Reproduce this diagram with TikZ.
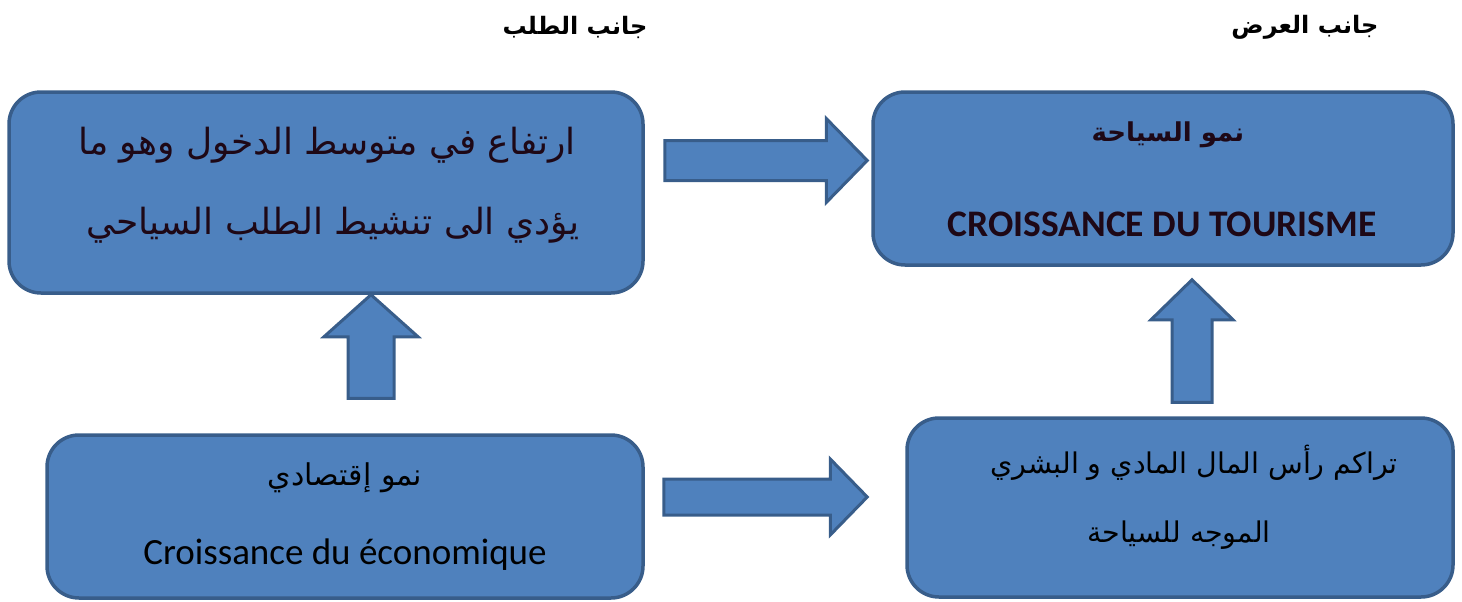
\documentclass[tikz,border=0pt]{standalone}
\usepackage{fontspec}
\setmainfont{Carlito}
\newfontfamily\arabicfont[Script=Arabic]{DejaVu Sans}
\TeXXeTstate=1
\usetikzlibrary{calc}
\definecolor{boxblue}{RGB}{79,129,189}
\definecolor{boxline}{RGB}{56,93,138}
\definecolor{inktext}{RGB}{30,8,22}
\tikzset{
  block/.style={draw=boxline, fill=boxblue, line width=3.5pt, rounded corners=32pt, inner sep=0pt},
  harrow/.style n args={3}{draw=boxline, fill=boxblue, line width=3pt,
    to path={let \p1=(\tikztostart), \p2=(\tikztotarget) in
      (\x1,\y1+#1) -- (\x2-#3,\y1+#1) -- (\x2-#3,\y1+#2) -- (\x2,\y1)
      -- (\x2-#3,\y1-#2) -- (\x2-#3,\y1-#1) -- (\x1,\y1-#1) -- cycle}},
  varrow/.style n args={3}{draw=boxline, fill=boxblue, line width=3pt,
    to path={let \p1=(\tikztostart), \p2=(\tikztotarget) in
      (\x1-#1,\y1) -- (\x1-#1,\y2-#3) -- (\x1-#2,\y2-#3) -- (\x1,\y2)
      -- (\x1+#2,\y2-#3) -- (\x1+#1,\y2-#3) -- (\x1+#1,\y1) -- cycle}},
  heading/.style={font=\arabicfont\bfseries\fontsize{24}{28}\selectfont},
  artext/.style={text=inktext, font=\arabicfont\fontsize{#1}{#1}\selectfont},
  arplain/.style={text=black, font=\arabicfont\fontsize{#1}{#1}\selectfont},
  arbold/.style={text=inktext, font=\arabicfont\bfseries\fontsize{#1}{#1}\selectfont},
  latext/.style={text=black, font=\fontsize{#1}{#1}\selectfont},
  labold/.style={text=inktext, font=\bfseries\fontsize{#1}{#1}\selectfont}
}
\begin{document}
\begin{tikzpicture}[x=1pt,y=-1pt]
\useasboundingbox (0,0) rectangle (1462,602);
% headings
\node[heading] (demand) at (575,27) {\beginR جانب الطلب\endR};
\node[heading] (supply) at (1305,27) {\beginR جانب العرض\endR};
% boxes
\node[block, minimum width=634pt, minimum height=201pt] (income) at (326,192.5) {};
\node[block, minimum width=580pt, minimum height=173pt] (tourism) at (1163,178.5) {};
\node[block, minimum width=596pt, minimum height=163pt] (growth) at (345,516.5) {};
\node[block, minimum width=546pt, minimum height=179pt] (capital) at (1180,507.5) {};
% texts
\node[artext=36] (income1) at (327,145) {\beginR ارتفاع في متوسط الدخول وهو ما\endR};
\node[artext=36] (income2) at (333,225) {\beginR يؤدي الى تنشيط الطلب السياحي\endR};
\node[arbold=26] (tourism1) at (1168,135) {\beginR نمو السياحة\endR};
\node[labold=37.5] (tourism2) at (1162,224) {CROISSANCE DU TOURISME};
\node[arplain=30] (growth1) at (345,478) {\beginR نمو إقتصادي\endR};
\node[latext=37] (growth2) at (345,555) {Croissance du économique};
\node[arplain=28.5] (capital1) at (1194,463) {\beginR تراكم رأس المال المادي و البشري\endR};
\node[arplain=28.5] (capital2) at (1179,535) {\beginR الموجه للسياحة\endR};
% arrows
\draw[harrow={20pt}{42pt}{41pt}] ([xshift=20pt,yshift=32pt]income.east) to ([xshift=-4pt]tourism.west);
\draw[harrow={18pt}{38pt}{37pt}] ([xshift=19pt,yshift=19.5pt]growth.east) to ([xshift=-38pt]capital.west);
\draw[varrow={23pt}{47pt}{42pt}] ([xshift=26pt,yshift=35pt]growth.north) to (income.south);
\draw[varrow={20pt}{41pt}{40pt}] ([xshift=12pt,yshift=14pt]capital.north) to ([yshift=-13pt]tourism.south);
\end{tikzpicture}
\end{document}
